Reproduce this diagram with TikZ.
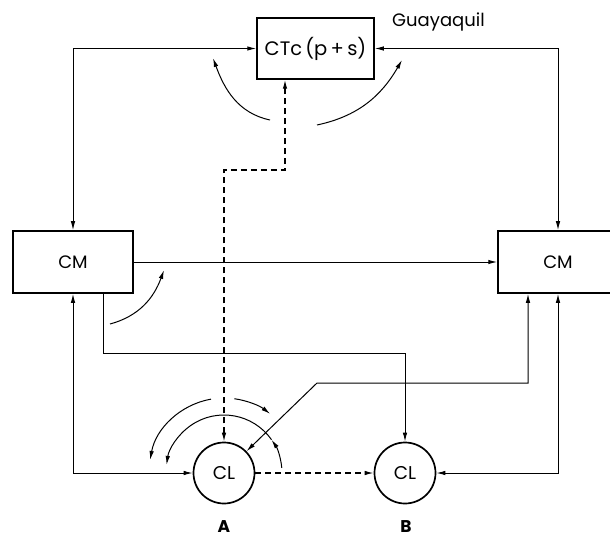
\documentclass[tikz,border=0pt]{standalone}
\usepackage{fontspec}
\setmainfont{Poppins}
\usetikzlibrary{arrows.meta,calc}
\begin{document}
\begin{tikzpicture}[x=1pt,y=1pt,
  box/.style={draw,line width=1.5pt,rectangle,inner sep=0pt},
  cl/.style={draw,line width=1.7pt,circle,minimum size=61pt,inner sep=0pt,font=\fontsize{18.5}{18.5}\selectfont},
  lbl/.style={font=\fontsize{18}{18}\selectfont},
  conn/.style={line width=1pt},
  tip/.style={-{Latex[length=9pt,width=4.5pt]}},
  bitip/.style={{Latex[length=9pt,width=4.5pt]}-{Latex[length=9pt,width=4.5pt]}},
  dashline/.style={line width=1.2pt,dash pattern=on 6pt off 4pt}
]
\useasboundingbox (0,0) rectangle (610,539);
\clip (0,0) rectangle (610,539);
% nodes
\node[box,minimum width=117pt,minimum height=61pt,font=\fontsize{19.5}{19.5}\selectfont] (ctc) at (315.5,490.5) {CTc\,(p\,+\,s)};
\node[anchor=base west,inner sep=0pt,font=\fontsize{18}{18}\selectfont] (gq) at (392,512) {Guayaquil};
\node[box,minimum width=120pt,minimum height=62pt,lbl] (cml) at (73,277) {CM};
\node[box,minimum width=120pt,minimum height=62pt,lbl] (cmr) at (558,277) {CM};
\node[cl] (cla) at (224,66) {CL};
\node[cl] (clb) at (405,66) {CL};
\node[anchor=base,inner sep=0pt,font=\fontsize{17}{17}\selectfont\bfseries] (la) at (224,7) {A};
\node[anchor=base,inner sep=0pt,font=\fontsize{17}{17}\selectfont\bfseries] (lb) at (406,7) {B};
% helper coordinates
\coordinate (k1) at (405,186);
\coordinate (k2) at (317,156);
\coordinate (k3) at (285,369);
% connectors
\draw[conn,bitip] (ctc.west) -| (cml.north);
\draw[conn,bitip] (ctc.east) -| (cmr.north);
\draw[conn,tip] (cml.east) -- (cmr.west);
\draw[conn,bitip] (cml.south) |- (cla.west);
\draw[conn,bitip] (cmr.south) |- (clb.east);
\draw[conn,tip] ([xshift=30pt]cml.south) |- (k1) -- (clb.north);
\draw[conn,bitip] (cla) -- (k2) -| ([xshift=-30pt]cmr.south);
\draw[dashline,bitip] (cla.north) |- (k3) -- (k3 |- ctc.south);
\draw[dashline,tip] (cla) -- (clb);
% curved arrows near CTc
\coordinate (c1s) at (270,419); \coordinate (c1e) at (213,481);
\coordinate (c2s) at (317,414); \coordinate (c2e) at (402,479);
\draw[conn,tip] (c1s) to[out=168,in=-70] (c1e);
\draw[conn,tip] (c2s) to[out=12,in=-120] (c2e);
% curved arrow near left CM
\coordinate (c3s) at (110,215); \coordinate (c3e) at (164,269);
\draw[conn,tip] (c3s) to[out=15,in=-110] (c3e);
% arcs around CL A
\draw[conn,tip] ($(cla.center)+(100:75)$) arc[start angle=100,end angle=170,radius=75];
\draw[conn,tip] ($(cla.center)+(82:75)$) arc[start angle=82,end angle=52,radius=75];
\draw[conn,tip] ($(cla.center)+(5:58)$) arc[start angle=5,end angle=35,radius=58];
\draw[conn,tip] ($(cla.center)+(35:58)$) arc[start angle=35,end angle=172,radius=58];
\end{tikzpicture}
\end{document}
